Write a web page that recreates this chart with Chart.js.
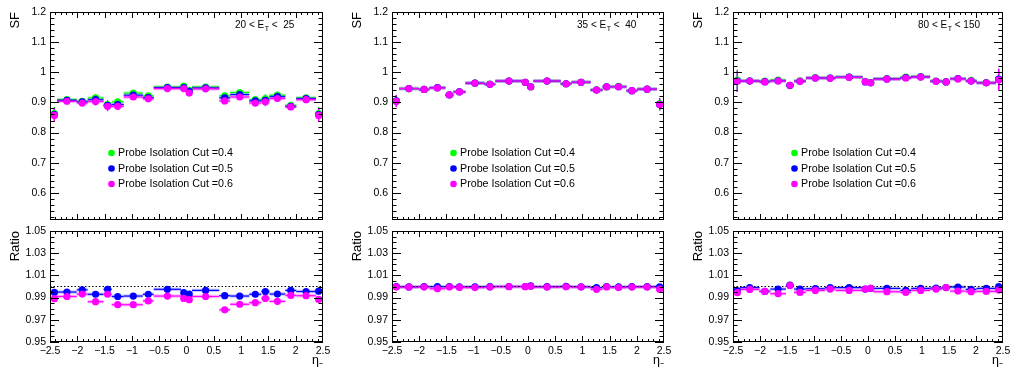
<!DOCTYPE html>
<html><head><meta charset="utf-8">
<script src="https://cdn.jsdelivr.net/npm/chart.js@4.4.0/dist/chart.umd.min.js"></script>
<style>
html,body{margin:0;padding:0;background:#fff;overflow:hidden;width:1010px;height:370px;position:relative;}
canvas{position:absolute;}
</style></head><body>
<canvas id="t0"></canvas><canvas id="b0"></canvas>
<canvas id="t1"></canvas><canvas id="b1"></canvas>
<canvas id="t2"></canvas><canvas id="b2"></canvas>
<script>
// ---------------- DATA ----------------
const etaEdges = [-2.47,-2.37,-2.01,-1.81,-1.52,-1.37,-1.15,-0.8,-0.6,-0.1,0,0.1,0.6,0.8,1.15,1.37,1.52,1.81,2.01,2.37,2.47];
const cutLabels = ['Probe Isolation Cut =0.4','Probe Isolation Cut =0.5','Probe Isolation Cut =0.6'];
const etLow  = ['20','35','80'];
const etHigh = [' 25',' 40','150'];

const xTicks = [-2.5,-2,-1.5,-1,-0.5,0,0.5,1,1.5,2,2.5];
const xTickLabels = ['\u22122.5','\u22122','\u22121.5','\u22121','\u22120.5','0','0.5','1','1.5','2','2.5'];
const sfTicks = [0.6,0.7,0.8,0.9,1.0,1.1,1.2];
const sfTickLabels = ['0.6','0.7','0.8','0.9','1','1.1','1.2'];
const ratioTicks = [0.95,0.97,0.99,1.01,1.03,1.05];
const ratioTickLabels = ['0.95','0.97','0.99','1.01','1.03','1.05'];

// 20 < ET < 25
const sf04_et20 = [0.863,0.909,0.904,0.915,0.893,0.902,0.931,0.922,0.951,0.954,0.940,0.951,0.922,0.933,0.909,0.913,0.924,0.890,0.915,0.863];
const sf05_et20 = [0.860,0.907,0.902,0.909,0.890,0.893,0.924,0.916,0.949,0.949,0.937,0.948,0.915,0.926,0.905,0.907,0.919,0.887,0.913,0.860];
const sf06_et20 = [0.857,0.904,0.898,0.903,0.887,0.887,0.918,0.912,0.946,0.946,0.931,0.945,0.905,0.918,0.898,0.902,0.913,0.885,0.909,0.857];
const sfErr_et20 = [0.022,0.008,0.006,0.013,0.016,0.011,0.008,0.008,0.006,0.008,0.008,0.006,0.010,0.008,0.008,0.015,0.012,0.006,0.006,0.022];
const r05_et20 = [0.9947,0.9950,0.9970,0.9930,0.9975,0.9910,0.9914,0.9930,0.9975,0.9944,0.9932,0.9965,0.9917,0.9914,0.9930,0.9955,0.9932,0.9965,0.9955,0.9958];
const r06_et20 = [0.9890,0.9910,0.9932,0.9863,0.9930,0.9836,0.9836,0.9870,0.9914,0.9893,0.9881,0.9910,0.9790,0.9840,0.9854,0.9893,0.9866,0.9920,0.9917,0.9884];

// 35 < ET < 40
const sf04_et35 = [0.905,0.946,0.943,0.949,0.925,0.936,0.964,0.961,0.971,0.967,0.952,0.971,0.962,0.967,0.942,0.952,0.953,0.939,0.944,0.895];
const sf05_et35 = [0.905,0.946,0.943,0.949,0.925,0.935,0.964,0.960,0.971,0.967,0.952,0.971,0.962,0.967,0.941,0.952,0.952,0.939,0.944,0.894];
const sf06_et35 = [0.904,0.946,0.943,0.948,0.925,0.935,0.964,0.960,0.971,0.967,0.952,0.971,0.962,0.967,0.941,0.952,0.952,0.939,0.944,0.893];
const sfErr_et35 = [0.020,0.004,0.004,0.004,0.006,0.005,0.004,0.004,0.003,0.004,0.004,0.003,0.004,0.004,0.004,0.005,0.004,0.004,0.004,0.020];
const r05_et35 = [1.0000,0.9996,0.9999,0.9998,1.0000,0.9997,0.9997,0.9998,1.0000,1.0000,1.0005,0.9998,1.0001,0.9997,0.9990,1.0000,0.9996,0.9998,0.9998,0.9997];
const r06_et35 = [0.9995,0.9995,0.9995,0.9980,0.9995,0.9992,0.9990,0.9995,0.9998,0.9998,1.0002,0.9995,0.9997,0.9995,0.9975,0.9996,0.9990,0.9995,0.9995,0.9976];

// 80 < ET < 150
const sf04_et80 = [0.974,0.972,0.971,0.974,0.956,0.972,0.982,0.981,0.984,0.970,0.966,0.979,0.984,0.986,0.971,0.969,0.979,0.973,0.966,0.977];
const sf05_et80 = [0.971,0.971,0.969,0.972,0.957,0.970,0.981,0.981,0.984,0.968,0.965,0.978,0.982,0.985,0.970,0.968,0.979,0.971,0.965,0.977];
const sf06_et80 = [0.970,0.971,0.968,0.971,0.957,0.970,0.981,0.980,0.983,0.969,0.965,0.977,0.981,0.984,0.970,0.968,0.978,0.971,0.965,0.975];
const sfErr_et80 = [0.035,0.004,0.004,0.005,0.010,0.005,0.003,0.003,0.003,0.004,0.004,0.003,0.003,0.003,0.005,0.007,0.005,0.004,0.004,0.035];
const r05_et80 = [0.9962,0.9990,0.9956,0.9977,1.0013,0.9977,0.9980,0.9990,0.9990,0.9977,0.9983,0.9983,0.9965,0.9983,0.9986,0.9990,0.9995,0.9974,0.9983,0.9998];
const r06_et80 = [0.9944,0.9974,0.9956,0.9935,1.0007,0.9947,0.9965,0.9977,0.9965,0.9977,0.9983,0.9953,0.9947,0.9965,0.9977,0.9990,0.9959,0.9953,0.9956,0.9968];

// ---------------- STYLE / LAYOUT ----------------
const FONT = "'Liberation Sans', Arial, Helvetica, sans-serif";
Chart.defaults.font.family = FONT;
Chart.defaults.color = '#000';
const colors = ['#00ff00','#0000ff','#ff00ff'];
const halos  = ['rgba(0,255,0,0.28)','rgba(0,0,255,0.22)','rgba(255,0,255,0.28)'];
const frameLeft  = [50, 392, 733];
const frameRight = [323, 664, 1003];
const TOP_Y0 = 12, TOP_Y1 = 220, BOT_Y0 = 231;

const centers = etaEdges.slice(0,-1).map((e,i)=>(e+etaEdges[i+1])/2);
const pts = vals => vals.map((v,i)=>({x:centers[i], y:v}));

const histPlugin = {
  id:'hist',
  beforeDatasetsDraw(chart){
    const {ctx, chartArea:a, scales:{x,y}} = chart;
    ctx.save();
    ctx.beginPath(); ctx.rect(a.left,a.top,a.right-a.left,a.bottom-a.top); ctx.clip();
    const dss = chart.data.datasets.filter(d=>d.errVals);
    dss.slice().sort((p,q)=>q.order-p.order).forEach(ds=>{
      ds.data.forEach((p,i)=>{
        const x0 = x.getPixelForValue(etaEdges[i]), x1 = x.getPixelForValue(etaEdges[i+1]);
        const py = y.getPixelForValue(p.y);
        ctx.strokeStyle = ds.haloColor; ctx.lineWidth = 3.5;
        ctx.beginPath(); ctx.moveTo(x0,py); ctx.lineTo(x1,py); ctx.stroke();
        ctx.strokeStyle = ds.borderColor; ctx.lineWidth = 1.2;
        ctx.beginPath(); ctx.moveTo(x0,py); ctx.lineTo(x1,py); ctx.stroke();
        const e = ds.errVals[i];
        if (e>0){
          const xc = x.getPixelForValue(p.x);
          ctx.lineWidth = 1.2;
          ctx.beginPath(); ctx.moveTo(xc,y.getPixelForValue(p.y-e)); ctx.lineTo(xc,y.getPixelForValue(p.y+e)); ctx.stroke();
        }
      });
    });
    ctx.restore();
  }
};

function rangeTicks(lo, hi, step){
  const out=[]; const n=Math.round((hi-lo)/step);
  for(let k=0;k<=n;k++) out.push(lo+k*step);
  return out;
}

const framePlugin = {
  id:'frame',
  afterDatasetsDraw(chart, args, o){
    const {ctx, chartArea:a, scales:{x,y}} = chart;
    ctx.save();
    ctx.strokeStyle='#000'; ctx.lineWidth=1;
    const L=Math.round(a.left), R=Math.round(a.right), T=Math.round(a.top), B=Math.round(a.bottom);
    ctx.strokeRect(L+0.5,T+0.5,R-L-1,B-T-1);
    ctx.beginPath();
    const xt = (vals,len)=>vals.forEach(v=>{
      const px=Math.round(x.getPixelForValue(v))+0.5;
      if(px<L||px>R) return;
      ctx.moveTo(px,B); ctx.lineTo(px,B-len);
      ctx.moveTo(px,T); ctx.lineTo(px,T+len);
    });
    const yt = (vals,len)=>vals.forEach(v=>{
      const py=Math.round(y.getPixelForValue(v))+0.5;
      if(py<T-0.1||py>B+1) return;
      ctx.moveTo(L,py); ctx.lineTo(L+len,py);
      ctx.moveTo(R,py); ctx.lineTo(R-len,py);
    });
    xt(rangeTicks(-2.5,2.5,0.1), o.xMinor);
    xt(xTicks, o.xMajor);
    yt(o.yMinorVals, o.yMinor);
    yt(o.yMajorVals, o.yMajor);
    ctx.stroke();
    ctx.restore();
  }
};

const textPlugin = {
  id:'texts',
  afterDatasetsDraw(chart, args, o){
    if(!o.legend) return;
    const {ctx, chartArea:a} = chart;
    ctx.save();
    const dss = chart.data.datasets.filter(d=>d.errVals);
    dss.forEach((ds,k)=>{
      const yy = 153 + k*15.5;
      ctx.fillStyle = ds.backgroundColor;
      ctx.beginPath(); ctx.arc(a.left+61.5, yy, 3.3, 0, 2*Math.PI); ctx.fill();
      ctx.fillStyle='#000'; ctx.font = '10.7px '+FONT; ctx.textBaseline='middle'; ctx.textAlign='left';
      ctx.fillText(ds.label, a.left+68, yy+0.5);
    });
    let xx = a.left + 185; const yy = 25;
    ctx.font = '10px '+FONT; ctx.textBaseline='middle';
    const p1 = o.etLo + ' < E';
    ctx.fillText(p1, xx, yy); xx += ctx.measureText(p1).width;
    ctx.font = '7px '+FONT; ctx.fillText('T', xx+0.5, yy+4); xx += ctx.measureText('T').width+0.5;
    ctx.font = '10px '+FONT;
    ctx.fillText((o.etHi.startsWith(' ') ? ' <  ' : ' < ') + o.etHi.trim(), xx, yy);
    ctx.restore();
  }
};

function makeChart(id, col, isTop, series, errs){
  const cv = document.getElementById(id);
  const fw = frameRight[col]-frameLeft[col];
  const W = 50 + fw + 20;
  const top = isTop ? 0 : 222;
  const H = isTop ? 226 : 148;
  cv.width = W; cv.height = H;
  cv.style.left = (frameLeft[col]-50)+'px'; cv.style.top = top+'px';
  const datasets = [];
  const idxs = isTop ? [0,1,2] : [1,2];
  idxs.forEach((k,j)=>{
    datasets.push({
      type:'scatter', label:cutLabels[k], data:pts(series[j]),
      errVals: errs ? errs : series[j].map(()=>0),
      borderColor:colors[k], backgroundColor:colors[k], haloColor:halos[k],
      pointRadius:3.6, pointBorderWidth:0, pointHoverRadius:3.6, order:3-k
    });
  });
  if(!isTop){
    datasets.push({type:'line', label:'unity', data:[{x:-2.5,y:1},{x:2.5,y:1}],
      borderColor:'#000', borderWidth:1, borderDash:[1.5,2], pointRadius:0, order:10});
  }
  const yT = isTop ? sfTicks : ratioTicks;
  const yL = isTop ? sfTickLabels : ratioTickLabels;
  new Chart(cv, {
    data:{datasets},
    plugins:[histPlugin, framePlugin, textPlugin],
    options:{
      responsive:false, animation:false, events:[],
      layout:{padding: isTop ? {left:0,top:TOP_Y0,right:20,bottom:H-TOP_Y1} : {left:0,top:BOT_Y0-222,right:20,bottom:0}},
      plugins:{
        legend:{display:false}, tooltip:{enabled:false},
        frame:{ xMajor: 6, xMinor: 3, yMajor:9, yMinor:4.5,
          yMajorVals: yT,
          yMinorVals: isTop ? rangeTicks(0.52,1.2,0.02) : rangeTicks(0.95,1.05,0.005) },
        texts:{ legend:isTop, etLo:etLow[col], etHi:etHigh[col] }
      },
      scales:{
        x:{ type:'linear', min:-2.5, max:2.5, position:'bottom', display: true,
          grid:{display:false, drawTicks:false}, border:{display:false},
          afterBuildTicks: s=>{ s.ticks = xTicks.map(v=>({value:v})); },
          afterFit: s=>{ s.height = isTop ? 0 : 28; },
          ticks:{ display:!isTop, autoSkip:false, maxRotation:0, padding:3,
            font:{size:10.5}, color:'#000', callback:(v,i)=>xTickLabels[i] },
          title:{ display:!isTop, text:'\u03b7\u208b', align:'end', color:'#000',
            font:{size:12.5}, padding:{top:0,bottom:2} }
        },
        y:{ type:'linear', min: isTop?0.51:0.95, max: isTop?1.2:1.05, position:'left',
          grid:{display:false, drawTicks:false}, border:{display:false},
          afterBuildTicks: s=>{ s.ticks = yT.map(v=>({value:v})); },
          afterFit: s=>{ s.width = 50; s.paddingTop = 0; s.paddingBottom = 0; },
          ticks:{ autoSkip:false, padding:4, font:{size:10.5}, color:'#000', callback:(v,i)=>yL[i] },
          title:{ display:true, text: isTop?'SF':'Ratio', align:'end', color:'#000',
            font:{size:13}, padding:{top:8,bottom:0} }
        }
      }
    }
  });
}

makeChart('t0',0,true,[sf04_et20,sf05_et20,sf06_et20],sfErr_et20);
makeChart('b0',0,false,[r05_et20,r06_et20],null);
makeChart('t1',1,true,[sf04_et35,sf05_et35,sf06_et35],sfErr_et35);
makeChart('b1',1,false,[r05_et35,r06_et35],null);
makeChart('t2',2,true,[sf04_et80,sf05_et80,sf06_et80],sfErr_et80);
makeChart('b2',2,false,[r05_et80,r06_et80],null);
</script>
</body></html>
